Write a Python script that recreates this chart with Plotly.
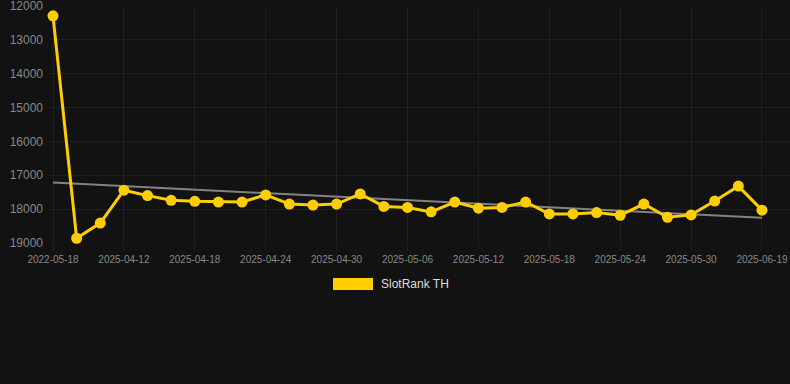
import numpy as np
import plotly.graph_objects as go

dates = ["2022-05-18", "2025-04-08", "2025-04-10", "2025-04-12", "2025-04-14", "2025-04-16",
         "2025-04-18", "2025-04-20", "2025-04-22", "2025-04-24", "2025-04-26", "2025-04-28",
         "2025-04-30", "2025-05-02", "2025-05-04", "2025-05-06", "2025-05-08", "2025-05-10",
         "2025-05-12", "2025-05-14", "2025-05-16", "2025-05-18", "2025-05-20", "2025-05-22",
         "2025-05-24", "2025-05-26", "2025-05-28", "2025-05-30", "2025-06-01", "2025-06-03",
         "2025-06-19"]
rank = [12290, 18860, 18410, 17440, 17600, 17740, 17770, 17790, 17790, 17580, 17850,
        17880, 17850, 17550, 17920, 17950, 18080, 17790, 17970, 17950, 17790, 18140,
        18140, 18100, 18180, 17850, 18240, 18170, 17760, 17320, 18030]
y_ticks = [12000, 13000, 14000, 15000, 16000, 17000, 18000, 19000]
series_name = "SlotRank TH"

idx = np.arange(len(rank))
slope, intercept = np.polyfit(idx, np.array(rank, dtype=float), 1)
trend = slope * idx + intercept

BG = "#121212"
GRID = "rgba(255,255,255,0.06)"
GOLD = "#FFCE00"

fig = go.Figure()
fig.add_trace(go.Scatter(x=idx, y=trend, mode="lines",
                         line=dict(color="rgba(150,150,150,0.85)", width=2),
                         hoverinfo="skip", showlegend=False))
fig.add_trace(go.Scatter(x=idx, y=rank, mode="lines+markers", name=series_name,
                         line=dict(color=GOLD, width=3),
                         marker=dict(color=GOLD, size=11),
                         cliponaxis=False, showlegend=False,
                         text=dates, hovertemplate="%{text}: %{y}<extra></extra>"))

tick_idx = list(idx[::3])
fig.update_layout(
    width=790, height=384,
    paper_bgcolor=BG, plot_bgcolor=BG,
    margin=dict(l=50, r=0, t=6, b=141),
    font=dict(family="Liberation Sans, Arial, sans-serif", color="#888888"),
    xaxis=dict(range=[-0.127, 31.185], tickmode="array", tickvals=tick_idx,
               ticktext=[dates[i] for i in tick_idx], showgrid=True, gridcolor=GRID,
               gridwidth=1, zeroline=False, showline=False, ticks="outside",
               ticklen=7, tickcolor=GRID, tickfont=dict(size=10, color="#888888")),
    yaxis=dict(range=[19000, 12000], tickmode="array", tickvals=y_ticks,
               ticktext=[str(v) for v in y_ticks], ticklabeloverflow="allow",
               showgrid=True, gridcolor=GRID, gridwidth=1, zeroline=False,
               showline=False, ticks="", ticklabelstandoff=6,
               tickfont=dict(size=12, color="#888888")),
    showlegend=False,
    shapes=[dict(type="rect", xref="paper", yref="paper",
                 x0=(333 - 50) / 740, x1=(373 - 50) / 740,
                 y0=(243 - 290) / 237, y1=(243 - 278) / 237,
                 fillcolor=GOLD, line=dict(width=0))],
    annotations=[dict(text=series_name, xref="paper", yref="paper",
                      x=(379 - 50) / 740, y=(243 - 284) / 237,
                      xanchor="left", yanchor="middle", showarrow=False,
                      font=dict(size=12, color="#dddddd"))],
)

fig.write_html("out.html", config={"displayModeBar": False},
               post_script="document.body.style.margin='0';document.body.style.background='#121212';")
